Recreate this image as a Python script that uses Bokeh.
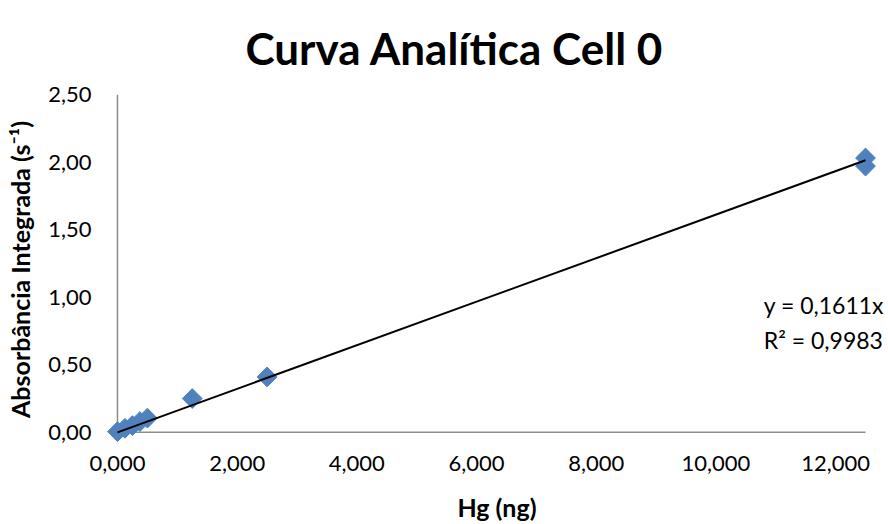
import numpy as np
from bokeh.plotting import figure
from bokeh.models import Range1d, FixedTicker, CustomJSTickFormatter, Label, ColumnDataSource
from bokeh.embed import file_html
from bokeh.resources import INLINE

# ---- data ----
hg_ng = [0.0, 0.125, 0.25, 0.375, 0.5, 1.25, 2.5, 12.5, 12.5]
absorbancia = [0.005, 0.03, 0.05, 0.08, 0.105, 0.25, 0.41, 2.03, 1.97]
slope = 0.1611
r2 = 0.9983
x_ticks = [0, 2, 4, 6, 8, 10, 12]
y_ticks = [0.0, 0.5, 1.0, 1.5, 2.0, 2.5]
x_max = 12.5
y_max = 2.5

FONT = "Lato"
BLUE = "#4F81BD"
AXIS_GRAY = "#8C8C8C"

p = figure(width=888, height=524, output_backend="svg", toolbar_location=None,
           x_range=Range1d(-0.2, 12.884), y_range=Range1d(-0.09, y_max),
           min_border_left=105, min_border_right=0, min_border_top=94, min_border_bottom=79,
           title="Curva Analítica Cell 0")

p.title.text_font = FONT
p.title.text_font_size = "44px"
p.title.text_font_style = "bold"
p.title.align = "left"
p.title.offset = 140
p.title.vertical_align = "top"
p.title.standoff = 38
p.title.text_color = "#000000"

p.outline_line_color = None
p.background_fill_color = "white"
p.border_fill_color = "white"
p.xgrid.visible = False
p.ygrid.visible = False

for ax in (p.xaxis, p.yaxis):
    ax.axis_line_color = None
    ax.major_tick_line_color = None
    ax.minor_tick_line_color = None
    ax.major_tick_out = 0
    ax.major_tick_in = 0
    ax.major_label_text_font = FONT
    ax.major_label_text_font_size = "22px"
    ax.major_label_text_color = "#000000"
    ax.axis_label_text_font = FONT
    ax.axis_label_text_font_style = "bold"
    ax.axis_label_text_color = "#000000"

p.xaxis.axis_label_text_font_size = "25px"
p.yaxis.axis_label_text_font_size = "25px"

p.xaxis.ticker = FixedTicker(ticks=x_ticks)
p.yaxis.ticker = FixedTicker(ticks=y_ticks)
p.xaxis.formatter = CustomJSTickFormatter(code="return tick.toFixed(3).replace('.', ',');")
p.yaxis.formatter = CustomJSTickFormatter(code="return tick.toFixed(2).replace('.', ',');")
p.xaxis.major_label_standoff = 11
p.yaxis.major_label_standoff = 14
p.xaxis.axis_label = "Hg (ng)"
p.yaxis.axis_label = "Absorbância Integrada (s⁻¹)"
p.xaxis.axis_label_standoff = 18
p.yaxis.axis_label_standoff = 10

# axis lines at the data origin
p.segment(x0=[0, 0], y0=[0, 0], x1=[0, x_max], y1=[y_max, 0],
          line_color=AXIS_GRAY, line_width=1.5)

# data points (Excel-style diamonds)
src = ColumnDataSource(dict(x=hg_ng, y=absorbancia))
p.scatter("x", "y", source=src, marker="square", angle=np.pi / 4, size=14,
          fill_color=BLUE, line_color=BLUE, line_width=1)

# linear trendline through origin
tx = [0.0, x_max]
ty = [slope * v for v in tx]
p.line(tx, ty, line_color="black", line_width=2)

eq1 = "y = " + f"{slope:.4f}".replace(".", ",") + "x"
eq2 = "R² = " + f"{r2:.4f}".replace(".", ",")
p.add_layout(Label(x=10.8, y=0.94, text=eq1, text_font=FONT, text_font_size="23px",
                   text_color="#000000", text_baseline="alphabetic"))
p.add_layout(Label(x=10.8, y=0.68, text=eq2, text_font=FONT, text_font_size="23px",
                   text_color="#000000", text_baseline="alphabetic"))

open("out.html", "w").write(file_html(p, INLINE))
